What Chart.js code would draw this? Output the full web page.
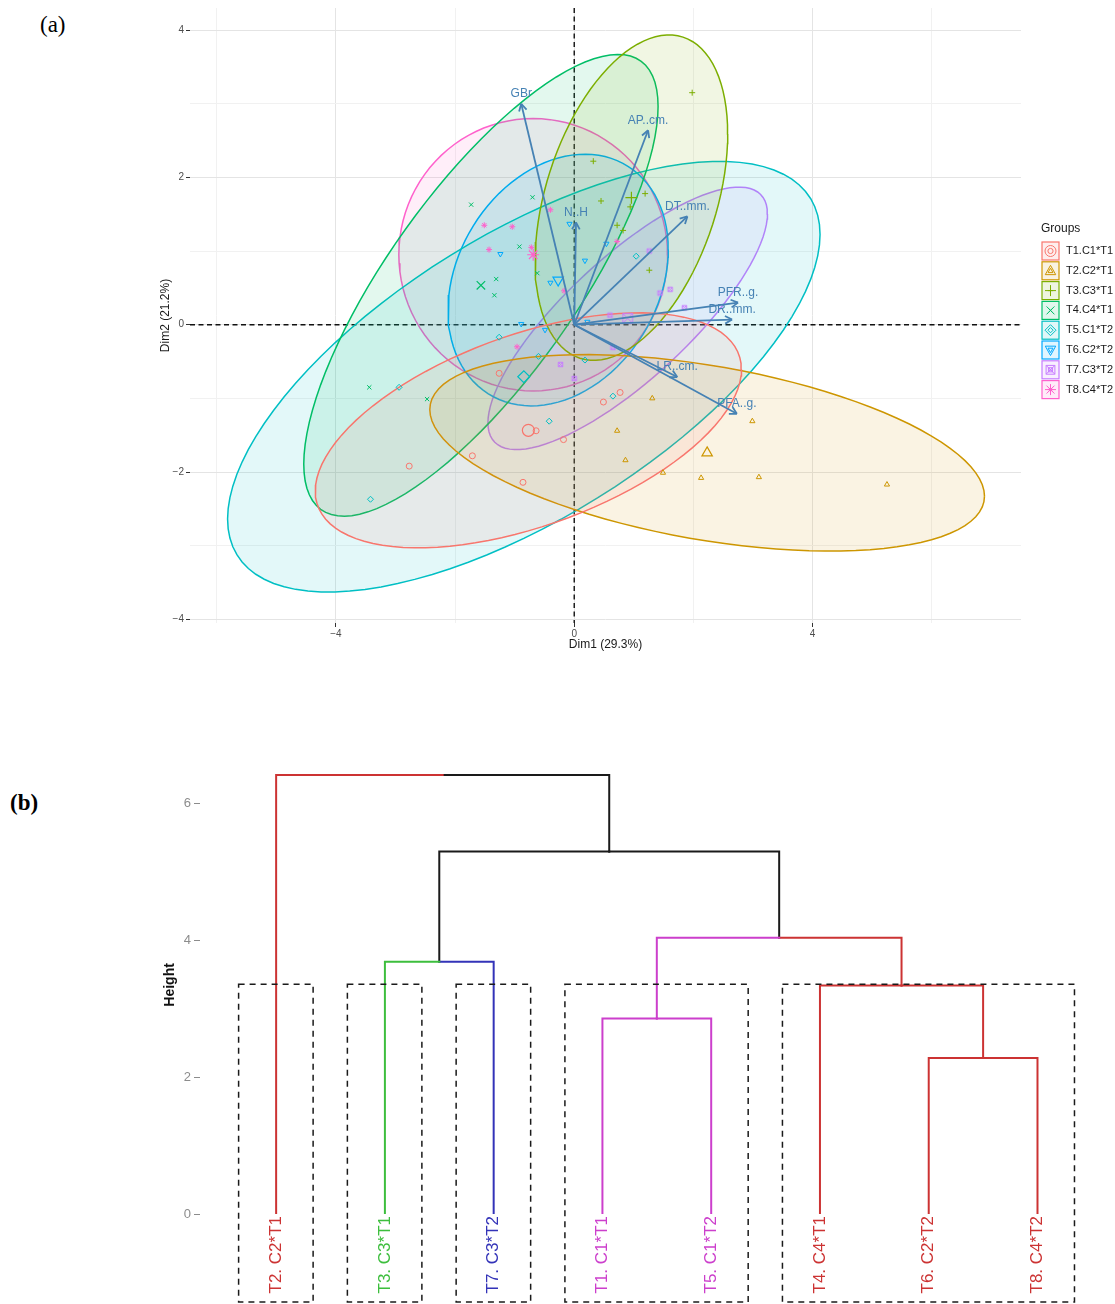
<!DOCTYPE html>
<html>
<head>
<meta charset="utf-8">
<title>PCA biplot and dendrogram</title>
<script src="https://cdn.jsdelivr.net/npm/chart.js@4.4.1/dist/chart.umd.min.js"></script>
<style>
  body { margin: 0; background: #fff; width: 1115px; height: 1304px; position: relative; overflow: hidden; }
  .tag { position: absolute; font-family: "Liberation Serif", "Times New Roman", serif; font-size: 23px; color: #000; }
  #tagA { left: 40px; top: 12px; }
  #tagB { left: 10px; top: 790px; font-weight: bold; }
  .box { position: absolute; left: 0; width: 1115px; }
  #pcaBox { top: 0; height: 660px; }
  #dendBox { top: 745px; height: 559px; }
</style>
</head>
<body>
<div id="tagA" class="tag">(a)</div>
<div id="tagB" class="tag">(b)</div>
<div id="pcaBox" class="box"><canvas id="pcaChart"></canvas></div>
<div id="dendBox" class="box"><canvas id="dendChart"></canvas></div>
<script>
// ---- (a) PCA biplot data ----
const groups = ['T1.C1*T1', 'T2.C2*T1', 'T3.C3*T1', 'T4.C4*T1', 'T5.C1*T2', 'T6.C2*T2', 'T7.C3*T2', 'T8.C4*T2'];
const groupColors = ['#F8766D', '#CD9600', '#7CAE00', '#00BE67', '#00BFC4', '#00A9FF', '#C77CFF', '#FF61CC'];
const groupShapes = ['circle', 'triangle', 'plus', 'x', 'diamond', 'downTriangle', 'boxX', 'asterisk'];

// individual scores (Dim1, Dim2), eight per group
const dim1T1 = [-1.26, -0.64, -0.18, -1.71, -2.77, -0.86, 0.49, 0.77];
const dim2T1 = [-0.66, -1.44, -1.56, -1.78, -1.92, -2.14, -1.05, -0.92];
const dim1T2 = [1.31, 0.72, 0.86, 1.49, 2.13, 3.10, 2.99, 5.25];
const dim2T2 = [-1.00, -1.44, -1.84, -2.01, -2.08, -2.07, -1.31, -2.17];
const dim1T3 = [1.98, 0.32, 0.45, 1.19, 0.94, 0.72, 0.82, 1.26];
const dim2T3 = [3.15, 2.22, 1.68, 1.78, 1.60, 1.35, 1.28, 0.74];
const dim1T4 = [-1.73, -0.70, -0.92, -1.31, -1.34, -0.62, -3.44, -2.47];
const dim2T4 = [1.63, 1.73, 1.06, 0.62, 0.40, 0.70, -0.85, -1.01];
const dim1T5 = [-1.26, -0.60, -2.94, -0.42, 0.65, -3.42, 0.18, 1.04];
const dim2T5 = [-0.17, -0.43, -0.85, -1.31, -0.97, -2.37, -0.48, 0.93];
const dim1T6 = [-0.08, -1.24, 0.18, 0.54, -0.89, -0.49, 0.22, -0.40];
const dim2T6 = [1.37, 0.96, 0.87, 1.10, 0.01, -0.07, 0.04, 0.57];
const dim1T7 = [1.26, 1.61, 1.44, 1.85, 0.60, 0.65, -0.23, 0.00];
const dim2T7 = [1.00, 0.48, 0.43, 0.23, 0.13, -0.31, -0.54, -0.73];
const dim1T8 = [-1.51, -1.04, -0.40, -1.43, -0.17, -0.96, -0.72, 0.72];
const dim2T8 = [1.35, 1.33, 1.56, 1.02, 0.46, -0.30, 1.05, 1.13];
const dim1 = [dim1T1, dim1T2, dim1T3, dim1T4, dim1T5, dim1T6, dim1T7, dim1T8];
const dim2 = [dim2T1, dim2T2, dim2T3, dim2T4, dim2T5, dim2T6, dim2T7, dim2T8];

// variable arrows (coordinates of the arrow tips)
const varNames = ['GBr', 'AP..cm.', 'DT..mm.', 'N..H', 'PFR..g.', 'DR..mm.', 'LR..cm.', 'PFA..g.'];
const varDim1 = [-0.89, 1.24, 1.90, 0.03, 2.75, 2.65, 1.73, 2.73];
const varDim2 = [3.00, 2.64, 1.47, 1.39, 0.30, 0.07, -0.71, -1.21];

const xTicksPca = [-6, -4, -2, 0, 2, 4, 6];
const yTicksPca = [-4, -3, -2, -1, 0, 1, 2, 3, 4];

// ---- (b) dendrogram data ----
const leafLabels = ['T2. C2*T1', 'T3. C3*T1', 'T7. C3*T2', 'T1. C1*T1', 'T5. C1*T2', 'T4. C4*T1', 'T6. C2*T2', 'T8. C4*T2'];
const RED = '#CC3333', GREEN = '#3DBE3D', BLUE = '#3333B8', MAGENTA = '#CC3FCC', BLACK = '#1a1a1a';
const leafColors = [RED, GREEN, BLUE, MAGENTA, MAGENTA, RED, RED, RED];
// hclust style merges: negative = leaf position, positive = earlier merge
const mergeLeft = [-7, -4, -6, -2, 2, 4, -1];
const mergeRight = [-8, -5, 1, -3, 3, 5, 6];
const mergeHeight = [2.28, 2.86, 3.34, 3.69, 4.04, 5.30, 6.42];
const mergeLeftColor = [RED, MAGENTA, RED, GREEN, MAGENTA, BLACK, RED];
const mergeRightColor = [RED, MAGENTA, RED, BLUE, RED, BLACK, BLACK];
const clusterFirst = [1, 2, 3, 4, 6];
const clusterLast = [1, 2, 3, 5, 8];
const rectTop = 3.36;
const yTicksDend = [0, 2, 4, 6];

const FONT = '"Liberation Sans", Arial, Helvetica, sans-serif';
Chart.defaults.font.family = FONT;
Chart.defaults.animation = false;

function fmt(v) { return v < 0 ? '\u2212' + Math.abs(v) : String(v); }
function mean(a) { return a.reduce((s, v) => s + v, 0) / a.length; }
function alpha(hex, a) {
  const n = parseInt(hex.slice(1), 16);
  return 'rgba(' + (n >> 16) + ',' + ((n >> 8) & 255) + ',' + (n & 255) + ',' + a + ')';
}

// draw one ggplot-like symbol
function drawSymbol(ctx, shape, x, y, r, color, lw) {
  ctx.save();
  ctx.strokeStyle = color;
  ctx.lineWidth = lw;
  ctx.beginPath();
  if (shape === 'circle') {
    ctx.arc(x, y, r, 0, Math.PI * 2);
  } else if (shape === 'triangle' || shape === 'downTriangle') {
    const s = shape === 'triangle' ? 1 : -1;
    ctx.moveTo(x, y - s * r);
    ctx.lineTo(x + r * 0.95, y + s * r * 0.7);
    ctx.lineTo(x - r * 0.95, y + s * r * 0.7);
    ctx.closePath();
  } else if (shape === 'plus' || shape === 'asterisk') {
    ctx.moveTo(x - r, y); ctx.lineTo(x + r, y);
    ctx.moveTo(x, y - r); ctx.lineTo(x, y + r);
  } else if (shape === 'diamond') {
    ctx.moveTo(x, y - r); ctx.lineTo(x + r, y); ctx.lineTo(x, y + r); ctx.lineTo(x - r, y);
    ctx.closePath();
  } else if (shape === 'boxX') {
    const h = r * 0.8;
    ctx.rect(x - h, y - h, 2 * h, 2 * h);
    ctx.moveTo(x - h, y - h); ctx.lineTo(x + h, y + h);
    ctx.moveTo(x + h, y - h); ctx.lineTo(x - h, y + h);
  }
  if (shape === 'x' || shape === 'asterisk') {
    const d = r * 0.72;
    ctx.moveTo(x - d, y - d); ctx.lineTo(x + d, y + d);
    ctx.moveTo(x + d, y - d); ctx.lineTo(x - d, y + d);
  }
  ctx.stroke();
  ctx.restore();
}

function boxXCanvas(color, r) {
  const size = Math.ceil(2 * r + 3);
  const c = document.createElement('canvas');
  c.width = size; c.height = size;
  drawSymbol(c.getContext('2d'), 'boxX', size / 2, size / 2, r, color, 1);
  return c;
}

function chartPointStyle(shape, g, r) {
  switch (shape) {
    case 'circle': return { style: 'circle', rot: 0 };
    case 'triangle': return { style: 'triangle', rot: 0 };
    case 'downTriangle': return { style: 'triangle', rot: 180 };
    case 'plus': return { style: 'cross', rot: 0 };
    case 'x': return { style: 'crossRot', rot: 0 };
    case 'diamond': return { style: 'rectRot', rot: 0 };
    case 'asterisk': return { style: 'star', rot: 0 };
    default: return { style: boxXCanvas(groupColors[g], r), rot: 0 };
  }
}

// normal data ellipse, level 0.95 (as stat_ellipse type "norm"): radius^2 = 2 * qf(0.95, 2, n - 1), n = 8
const ellipseRadius = Math.sqrt(2 * 4.737);
function ellipsePoints(xs, ys) {
  const n = xs.length, mx = mean(xs), my = mean(ys);
  let sxx = 0, syy = 0, sxy = 0;
  for (let i = 0; i < n; i++) {
    const dx = xs[i] - mx, dy = ys[i] - my;
    sxx += dx * dx; syy += dy * dy; sxy += dx * dy;
  }
  const sx = Math.sqrt(sxx / (n - 1)), sy = Math.sqrt(syy / (n - 1));
  const rho = (sxy / (n - 1)) / (sx * sy);
  const pts = [];
  for (let k = 0; k <= 100; k++) {
    const t = 2 * Math.PI * k / 100;
    pts.push({
      x: mx + ellipseRadius * sx * Math.cos(t),
      y: my + ellipseRadius * sy * (rho * Math.cos(t) + Math.sqrt(1 - rho * rho) * Math.sin(t))
    });
  }
  return pts;
}

// ---- build PCA datasets ----
const pcaDatasets = [];
varNames.forEach((name, i) => {
  pcaDatasets.push({
    label: name, isArrow: true, order: 0,
    data: [{ x: 0, y: 0 }, { x: varDim1[i], y: varDim2[i] }],
    showLine: true, borderColor: '#4682B4', borderWidth: 1.8, pointRadius: 0
  });
});
groups.forEach((name, g) => {
  const small = chartPointStyle(groupShapes[g], g, 2.8);
  const big = chartPointStyle(groupShapes[g], g, 6);
  pcaDatasets.push({
    label: name + ' mean', order: 1,
    data: [{ x: mean(dim1[g]), y: mean(dim2[g]) }],
    pointStyle: big.style, pointRotation: big.rot, pointRadius: 6,
    borderColor: groupColors[g], backgroundColor: 'rgba(0,0,0,0)', pointBorderWidth: 1.2
  });
  pcaDatasets.push({
    label: name, order: 2,
    data: dim1[g].map((v, i) => ({ x: v, y: dim2[g][i] })),
    pointStyle: small.style, pointRotation: small.rot, pointRadius: 3,
    borderColor: groupColors[g], backgroundColor: 'rgba(0,0,0,0)', pointBorderWidth: 1
  });
  pcaDatasets.push({
    label: name + ' ellipse', order: 3,
    data: ellipsePoints(dim1[g], dim2[g]),
    showLine: true, fill: 'shape', tension: 0,
    borderColor: groupColors[g], backgroundColor: alpha(groupColors[g], 0.11),
    borderWidth: 1.5, pointRadius: 0
  });
});

const pcaPlugin = {
  id: 'pcaExtras',
  beforeDatasetsDraw(chart) {
    const { ctx, chartArea: a, scales: { x, y } } = chart;
    ctx.save();
    ctx.strokeStyle = '#111';
    ctx.lineWidth = 1.4;
    ctx.setLineDash([5, 3.5]);
    ctx.beginPath();
    ctx.moveTo(a.left, y.getPixelForValue(0)); ctx.lineTo(a.right, y.getPixelForValue(0));
    ctx.moveTo(x.getPixelForValue(0), a.top); ctx.lineTo(x.getPixelForValue(0), a.bottom);
    ctx.stroke();
    ctx.restore();
  },
  afterDatasetsDraw(chart) {
    const ctx = chart.ctx;
    ctx.save();
    chart.data.datasets.forEach((ds, i) => {
      if (!ds.isArrow) return;
      const meta = chart.getDatasetMeta(i);
      const p0 = meta.data[0], p1 = meta.data[1];
      const ang = Math.atan2(p1.y - p0.y, p1.x - p0.x);
      ctx.strokeStyle = '#4682B4';
      ctx.lineWidth = 1.8;
      ctx.beginPath();
      for (const s of [-1, 1]) {
        ctx.moveTo(p1.x, p1.y);
        ctx.lineTo(p1.x - 8 * Math.cos(ang + s * 0.5), p1.y - 8 * Math.sin(ang + s * 0.5));
      }
      ctx.stroke();
      ctx.fillStyle = '#4682B4';
      ctx.font = '12px ' + FONT;
      ctx.textAlign = 'center';
      ctx.textBaseline = 'middle';
      ctx.fillText(ds.label, p1.x, p1.y - 10);
    });
    ctx.restore();
  },
  afterDraw(chart) {
    // group legend on the right
    const ctx = chart.ctx;
    ctx.save();
    ctx.fillStyle = '#1a1a1a';
    ctx.font = '12px ' + FONT;
    ctx.textBaseline = 'middle';
    ctx.textAlign = 'left';
    ctx.fillText('Groups', 1041, 229);
    groups.forEach((name, g) => {
      const cy = 251 + g * 19.8;
      ctx.fillStyle = alpha(groupColors[g], 0.12);
      ctx.fillRect(1042, cy - 9, 17, 18);
      ctx.strokeStyle = groupColors[g];
      ctx.lineWidth = 1.2;
      ctx.strokeRect(1042, cy - 9, 17, 18);
      drawSymbol(ctx, groupShapes[g], 1050.5, cy, 5.5, groupColors[g], 1);
      drawSymbol(ctx, groupShapes[g], 1050.5, cy, 2.6, groupColors[g], 1);
      ctx.fillStyle = '#1a1a1a';
      ctx.font = '11px ' + FONT;
      ctx.fillText(name, 1066, cy);
    });
    ctx.restore();
  }
};

new Chart(document.getElementById('pcaChart'), {
  type: 'scatter',
  data: { datasets: pcaDatasets },
  options: {
    responsive: true,
    maintainAspectRatio: false,
    layout: { padding: { left: 150, right: 94, top: 3, bottom: 0 } },
    plugins: { legend: { display: false }, tooltip: { enabled: false } },
    scales: {
      x: {
        type: 'linear', min: -6.45, max: 7.5,
        afterBuildTicks: s => { s.ticks = xTicksPca.map(v => ({ value: v })); },
        afterFit: s => { s.height = 37; },
        border: { display: false },
        grid: {
          color: c => (c.tick && c.tick.value % 4 === 0 ? '#e4e4e4' : '#f1f1f1'),
          tickColor: c => (c.tick && c.tick.value % 4 === 0 ? '#333' : 'rgba(0,0,0,0)'),
          tickLength: 4, lineWidth: 1
        },
        ticks: {
          callback: v => (v % 4 === 0 ? fmt(v) : ''),
          color: '#4d4d4d', font: { size: 10 }, padding: 1, maxRotation: 0, autoSkip: false
        },
        title: { display: true, text: 'Dim1 (29.3%)', color: '#1a1a1a', font: { size: 12 }, padding: { top: 2, bottom: 8 } }
      },
      y: {
        type: 'linear', min: -4.05, max: 4.3,
        afterBuildTicks: s => { s.ticks = yTicksPca.map(v => ({ value: v })); },
        afterFit: s => { s.width = 40; },
        border: { display: false },
        grid: {
          color: c => (c.tick && c.tick.value % 2 === 0 ? '#e4e4e4' : '#f1f1f1'),
          tickColor: c => (c.tick && c.tick.value % 2 === 0 ? '#333' : 'rgba(0,0,0,0)'),
          tickLength: 4, lineWidth: 1
        },
        ticks: {
          callback: v => (v % 2 === 0 ? fmt(v) : ''),
          color: '#4d4d4d', font: { size: 10 }, padding: 2, autoSkip: false
        },
        title: { display: true, text: 'Dim2 (21.2%)', color: '#1a1a1a', font: { size: 12 }, padding: { top: 8, bottom: 0 } }
      }
    }
  },
  plugins: [pcaPlugin]
});

// ---- build dendrogram datasets ----
const nodeX = [], nodeH = [];
function childPos(id) {
  return id < 0 ? { x: -id, h: 0 } : { x: nodeX[id - 1], h: nodeH[id - 1] };
}
const dendDatasets = [];
mergeHeight.forEach((h, m) => {
  const l = childPos(mergeLeft[m]), r = childPos(mergeRight[m]);
  const mid = (l.x + r.x) / 2;
  nodeX.push(mid); nodeH.push(h);
  [[l, mergeLeftColor[m]], [r, mergeRightColor[m]]].forEach(([c, col]) => {
    dendDatasets.push({
      data: [{ x: c.x, y: c.h }, { x: c.x, y: h }, { x: mid, y: h }],
      showLine: true, borderColor: col, borderWidth: 2, pointRadius: 0,
      borderJoinStyle: 'miter', borderCapStyle: 'square', tension: 0
    });
  });
});

const dendPlugin = {
  id: 'clusterRects',
  afterDraw(chart) {
    const { ctx, scales: { x, y } } = chart;
    ctx.save();
    ctx.strokeStyle = '#1a1a1a';
    ctx.lineWidth = 1.5;
    ctx.setLineDash([6, 5]);
    const top = y.getPixelForValue(rectTop);
    const bottom = chart.height - 2;
    clusterFirst.forEach((f, i) => {
      const x1 = x.getPixelForValue(f - 0.345), x2 = x.getPixelForValue(clusterLast[i] + 0.34);
      ctx.strokeRect(x1, top, x2 - x1, bottom - top);
    });
    ctx.restore();
  }
};

new Chart(document.getElementById('dendChart'), {
  type: 'scatter',
  data: { datasets: dendDatasets },
  options: {
    responsive: true,
    maintainAspectRatio: false,
    layout: { padding: { left: 150, right: 34, top: 10, bottom: 0 } },
    plugins: { legend: { display: false }, tooltip: { enabled: false } },
    scales: {
      x: {
        type: 'linear', min: 0.3, max: 8.4,
        afterBuildTicks: s => { s.ticks = leafLabels.map((_, i) => ({ value: i + 1 })); },
        afterFit: s => { s.height = 90; },
        border: { display: false },
        grid: { display: false, drawTicks: false },
        ticks: {
          callback: v => leafLabels[Math.round(v) - 1],
          color: c => leafColors[c.index],
          font: { size: 17 }, padding: 2, minRotation: 90, maxRotation: 90, autoSkip: false
        }
      },
      y: {
        type: 'linear', min: 0, max: 6.7,
        afterBuildTicks: s => { s.ticks = yTicksDend.map(v => ({ value: v })); },
        afterFit: s => { s.width = 50; },
        border: { display: false },
        grid: { drawOnChartArea: false, tickLength: 6, tickColor: '#8c8c8c' },
        ticks: { color: '#8c8c8c', font: { size: 13 }, padding: 3 },
        title: { display: true, text: 'Height', color: '#111', font: { size: 14, weight: 'bold' }, padding: { top: 12, bottom: 0 } }
      }
    }
  },
  plugins: [dendPlugin]
});
</script>
</body>
</html>
